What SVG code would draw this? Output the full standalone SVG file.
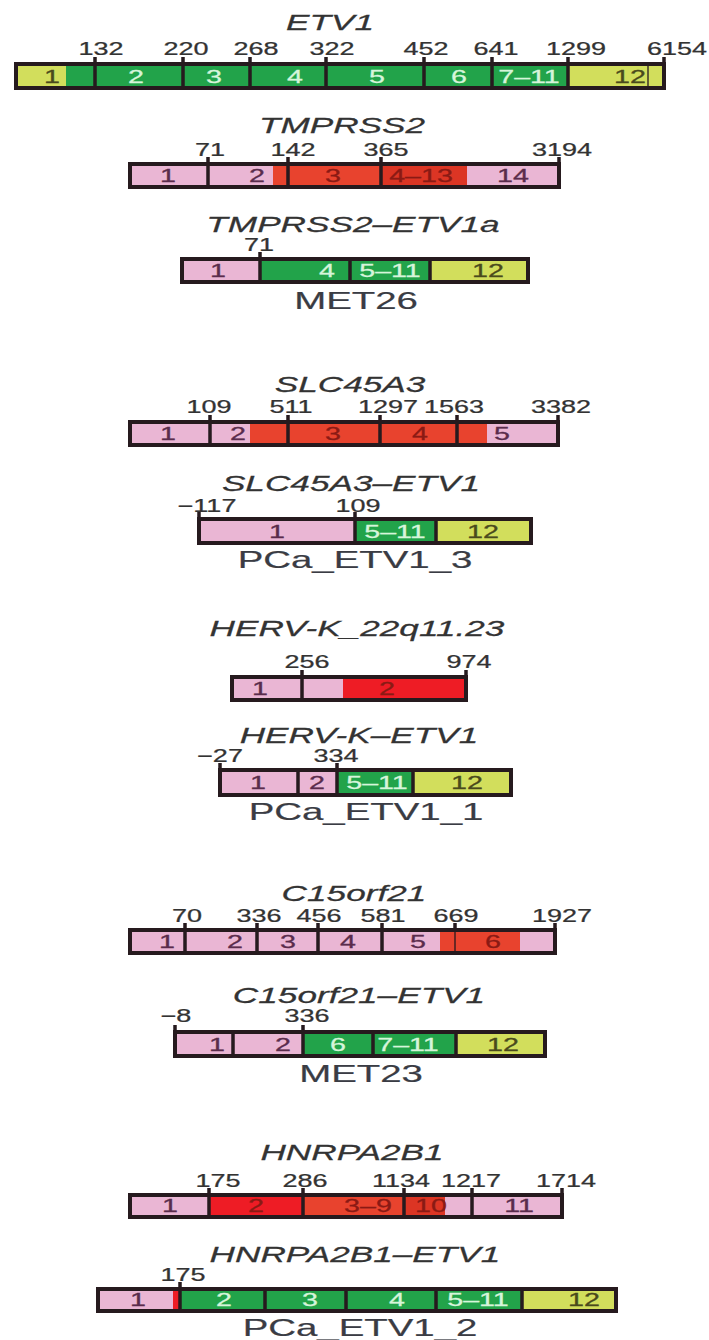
<svg xmlns="http://www.w3.org/2000/svg" width="709" height="1340" viewBox="0 0 709 1340">
<style>
text{font-family:"Liberation Sans",Arial,sans-serif;text-anchor:middle}
.t{font-size:22px;font-style:italic;fill:#333;stroke:#333;stroke-width:0.25}
.n{font-size:18px;fill:#333;stroke:#333;stroke-width:0.25}
.nm{font-size:24px;fill:#3a3c44;stroke:#3a3c44;stroke-width:0.2}
.l{font-size:18.5px;stroke-width:0.3}
.lg{fill:#d6f5da;stroke:#d6f5da}.lp{fill:#5a2c4c;stroke:#5a2c4c}.lr{fill:#8a1a14;stroke:#8a1a14}.ly{fill:#4a4a1c;stroke:#4a4a1c}
.grn{fill:#22a34a}.yel{fill:#d2de5c}.pnk{fill:#eab6d4}.red{fill:#e8432e}.brt{fill:#ee1c25}.dred{fill:#dc3524}
.box{fill:none;stroke:#261a1e;stroke-width:4}
.dv{stroke:#261a1e;stroke-width:3.5}
.thin{stroke:#261a1e;stroke-width:1.3}
</style>
<rect width="709" height="1340" fill="#ffffff"/>

<!-- ETV1 -->
<g id="etv1">
<text class="t" transform="translate(330 30) scale(1.6 1)">ETV1</text>
<rect class="yel" x="16" y="64" width="50" height="24"/>
<rect class="grn" x="66" y="64" width="502" height="24"/>
<rect class="yel" x="568" y="64" width="96" height="24"/>
<path class="dv" d="M95 57V90M183 57V90M250 57V90M326 57V90M424 57V90M492 57V90M568 57V90M664 57V64"/>
<path class="thin" d="M648 66V87"/>
<rect class="box" x="16" y="64" width="648" height="24"/>
<g class="n">
<text transform="translate(101 55) scale(1.5 1)">132</text>
<text transform="translate(186 55) scale(1.5 1)">220</text>
<text transform="translate(256 55) scale(1.5 1)">268</text>
<text transform="translate(332 55) scale(1.5 1)">322</text>
<text transform="translate(426 55) scale(1.5 1)">452</text>
<text transform="translate(496 55) scale(1.5 1)">641</text>
<text transform="translate(576 55) scale(1.5 1)">1299</text>
<text transform="translate(677 55) scale(1.5 1)">6154</text>
</g>
<g class="l">
<text class="ly" transform="translate(52 83) scale(1.55 1)">1</text>
<text class="lg" transform="translate(136 83) scale(1.55 1)">2</text>
<text class="lg" transform="translate(214 83) scale(1.55 1)">3</text>
<text class="lg" transform="translate(295 83) scale(1.55 1)">4</text>
<text class="lg" transform="translate(377 83) scale(1.55 1)">5</text>
<text class="lg" transform="translate(459 83) scale(1.55 1)">6</text>
<text class="lg" transform="translate(529 83) scale(1.55 1)">7–11</text>
<text class="ly" transform="translate(630 83) scale(1.55 1)">12</text>
</g>
</g>

<!-- TMPRSS2 -->
<g id="tmprss2">
<text class="t" transform="translate(342 133) scale(1.6 1)">TMPRSS2</text>
<rect class="pnk" x="130" y="164" width="143" height="23"/>
<rect class="red" x="273" y="164" width="108" height="23"/>
<rect class="dred" x="381" y="164" width="86" height="23"/>
<rect class="pnk" x="467" y="164" width="92" height="23"/>
<path class="dv" d="M208 157V189M288 157V189M381 157V189M559 157V164"/>
<rect class="box" x="130" y="164" width="429" height="23"/>
<g class="n">
<text transform="translate(210 156) scale(1.5 1)">71</text>
<text transform="translate(293 156) scale(1.5 1)">142</text>
<text transform="translate(386 156) scale(1.5 1)">365</text>
<text transform="translate(562 156) scale(1.5 1)">3194</text>
</g>
<g class="l">
<text class="lp" transform="translate(168 182) scale(1.55 1)">1</text>
<text class="lp" transform="translate(257 182) scale(1.55 1)">2</text>
<text class="lr" transform="translate(333 182) scale(1.55 1)">3</text>
<text class="lr" transform="translate(421 182) scale(1.55 1)">4–13</text>
<text class="lp" transform="translate(513 182) scale(1.55 1)">14</text>
</g>
</g>

<!-- TMPRSS2–ETV1a fusion -->
<g id="tmprss2-etv1a">
<text class="t" transform="translate(353 232) scale(1.6 1)">TMPRSS2–ETV1a</text>
<rect class="pnk" x="182" y="259" width="78" height="23"/>
<rect class="grn" x="260" y="259" width="170" height="23"/>
<rect class="yel" x="430" y="259" width="98" height="23"/>
<path class="dv" d="M260 252V284M350 259V282M430 259V282"/>
<rect class="box" x="182" y="259" width="346" height="23"/>
<text class="n" transform="translate(259 251) scale(1.5 1)">71</text>
<g class="l">
<text class="lp" transform="translate(218 277) scale(1.55 1)">1</text>
<text class="lg" transform="translate(327 277) scale(1.55 1)">4</text>
<text class="lg" transform="translate(390 277) scale(1.55 1)">5–11</text>
<text class="ly" transform="translate(488 277) scale(1.55 1)">12</text>
</g>
<text class="nm" transform="translate(356 309) scale(1.6 1)">MET26</text>
</g>

<!-- SLC45A3 -->
<g id="slc45a3">
<text class="t" transform="translate(350 392) scale(1.6 1)">SLC45A3</text>
<rect class="pnk" x="130" y="422" width="120" height="23"/>
<rect class="red" x="250" y="422" width="237" height="23"/>
<rect class="pnk" x="487" y="422" width="71" height="23"/>
<path class="dv" d="M210 415V447M288 415V447M380 415V447M457 415V447M558 415V422"/>
<rect class="box" x="130" y="422" width="428" height="23"/>
<g class="n">
<text transform="translate(209 413) scale(1.5 1)">109</text>
<text transform="translate(291 413) scale(1.5 1)">511</text>
<text transform="translate(388 413) scale(1.5 1)">1297</text>
<text transform="translate(454 413) scale(1.5 1)">1563</text>
<text transform="translate(561 413) scale(1.5 1)">3382</text>
</g>
<g class="l">
<text class="lp" transform="translate(168 440) scale(1.55 1)">1</text>
<text class="lp" transform="translate(238 440) scale(1.55 1)">2</text>
<text class="lr" transform="translate(333 440) scale(1.55 1)">3</text>
<text class="lr" transform="translate(420 440) scale(1.55 1)">4</text>
<text class="lp" transform="translate(502 440) scale(1.55 1)">5</text>
</g>
</g>

<!-- SLC45A3–ETV1 fusion -->
<g id="slc45a3-etv1">
<text class="t" transform="translate(351 491) scale(1.6 1)">SLC45A3–ETV1</text>
<rect class="pnk" x="199" y="519" width="156" height="24"/>
<rect class="grn" x="355" y="519" width="81" height="24"/>
<rect class="yel" x="436" y="519" width="95" height="24"/>
<path class="dv" d="M199 512V519M355 512V545M436 519V543"/>
<rect class="box" x="199" y="519" width="332" height="24"/>
<text class="n" transform="translate(207 512) scale(1.5 1)">−117</text>
<text class="n" transform="translate(358 512) scale(1.5 1)">109</text>
<g class="l">
<text class="lp" transform="translate(277 538) scale(1.55 1)">1</text>
<text class="lg" transform="translate(395 538) scale(1.55 1)">5–11</text>
<text class="ly" transform="translate(483 538) scale(1.55 1)">12</text>
</g>
<text class="nm" transform="translate(355 568) scale(1.6 1)">PCa_ETV1_3</text>
</g>

<!-- HERV-K_22q11.23 -->
<g id="hervk">
<text class="t" transform="translate(357 636) scale(1.6 1)">HERV-K_22q11.23</text>
<rect class="pnk" x="232" y="677" width="111" height="23"/>
<rect class="brt" x="343" y="677" width="123" height="23"/>
<path class="dv" d="M302 670V702M466 670V677"/>
<rect class="box" x="232" y="677" width="234" height="23"/>
<text class="n" transform="translate(307 668) scale(1.5 1)">256</text>
<text class="n" transform="translate(469 668) scale(1.5 1)">974</text>
<g class="l">
<text class="lp" transform="translate(260 695) scale(1.55 1)">1</text>
<text class="lr" transform="translate(387 695) scale(1.55 1)">2</text>
</g>
</g>

<!-- HERV-K–ETV1 fusion -->
<g id="hervk-etv1">
<text class="t" transform="translate(359 743) scale(1.6 1)">HERV-K–ETV1</text>
<rect class="pnk" x="220" y="770" width="117" height="25"/>
<rect class="grn" x="337" y="770" width="76" height="25"/>
<rect class="yel" x="413" y="770" width="98" height="25"/>
<path class="dv" d="M220 763V770M298 770V795M337 763V797M413 770V795"/>
<rect class="box" x="220" y="770" width="291" height="25"/>
<text class="n" transform="translate(220 762) scale(1.5 1)">−27</text>
<text class="n" transform="translate(336 762) scale(1.5 1)">334</text>
<g class="l">
<text class="lp" transform="translate(258 789) scale(1.55 1)">1</text>
<text class="lp" transform="translate(317 789) scale(1.55 1)">2</text>
<text class="lg" transform="translate(377 789) scale(1.55 1)">5–11</text>
<text class="ly" transform="translate(467 789) scale(1.55 1)">12</text>
</g>
<text class="nm" transform="translate(366 820) scale(1.6 1)">PCa_ETV1_1</text>
</g>

<!-- C15orf21 -->
<g id="c15orf21">
<text class="t" transform="translate(354 901) scale(1.6 1)">C15orf21</text>
<rect class="pnk" x="130" y="930" width="310" height="23"/>
<rect class="red" x="440" y="930" width="80" height="23"/>
<rect class="pnk" x="520" y="930" width="35" height="23"/>
<path class="dv" d="M185 923V955M257 923V955M318 923V955M382 923V955M555 923V930"/>
<path class="dv" d="M455 923V932"/>
<path class="thin" d="M455 932V953"/>
<rect class="box" x="130" y="930" width="425" height="23"/>
<g class="n">
<text transform="translate(187 922) scale(1.5 1)">70</text>
<text transform="translate(259 922) scale(1.5 1)">336</text>
<text transform="translate(319 922) scale(1.5 1)">456</text>
<text transform="translate(383 922) scale(1.5 1)">581</text>
<text transform="translate(456 922) scale(1.5 1)">669</text>
<text transform="translate(562 922) scale(1.5 1)">1927</text>
</g>
<g class="l">
<text class="lp" transform="translate(167 948) scale(1.55 1)">1</text>
<text class="lp" transform="translate(235 948) scale(1.55 1)">2</text>
<text class="lp" transform="translate(288 948) scale(1.55 1)">3</text>
<text class="lp" transform="translate(348 948) scale(1.55 1)">4</text>
<text class="lp" transform="translate(418 948) scale(1.55 1)">5</text>
<text class="lr" transform="translate(493 948) scale(1.55 1)">6</text>
</g>
</g>

<!-- C15orf21–ETV1 fusion -->
<g id="c15orf21-etv1">
<text class="t" transform="translate(359 1003) scale(1.6 1)">C15orf21–ETV1</text>
<rect class="pnk" x="175" y="1032" width="128" height="24"/>
<rect class="grn" x="303" y="1032" width="153" height="24"/>
<rect class="yel" x="456" y="1032" width="89" height="24"/>
<path class="dv" d="M175 1025V1032M233 1032V1056M303 1025V1058M373 1032V1056M456 1032V1056"/>
<rect class="box" x="175" y="1032" width="370" height="24"/>
<text class="n" transform="translate(176 1022) scale(1.5 1)">−8</text>
<text class="n" transform="translate(307 1022) scale(1.5 1)">336</text>
<g class="l">
<text class="lp" transform="translate(217 1051) scale(1.55 1)">1</text>
<text class="lp" transform="translate(283 1051) scale(1.55 1)">2</text>
<text class="lg" transform="translate(338 1051) scale(1.55 1)">6</text>
<text class="lg" transform="translate(408 1051) scale(1.55 1)">7–11</text>
<text class="ly" transform="translate(503 1051) scale(1.55 1)">12</text>
</g>
<text class="nm" transform="translate(361 1082) scale(1.6 1)">MET23</text>
</g>

<!-- HNRPA2B1 -->
<g id="hnrpa2b1">
<text class="t" transform="translate(352 1160) scale(1.6 1)">HNRPA2B1</text>
<rect class="pnk" x="130" y="1195" width="79" height="22"/>
<rect class="brt" x="209" y="1195" width="94" height="22"/>
<rect class="red" x="303" y="1195" width="101" height="22"/>
<rect class="dred" x="404" y="1195" width="41" height="22"/>
<rect class="pnk" x="445" y="1195" width="117" height="22"/>
<path class="dv" d="M209 1188V1219M303 1188V1219M404 1188V1219M472 1188V1219M562 1188V1195"/>
<rect class="box" x="130" y="1195" width="432" height="22"/>
<g class="n">
<text transform="translate(218 1187) scale(1.5 1)">175</text>
<text transform="translate(305 1187) scale(1.5 1)">286</text>
<text transform="translate(401 1187) scale(1.5 1)">1134</text>
<text transform="translate(471 1187) scale(1.5 1)">1217</text>
<text transform="translate(566 1187) scale(1.5 1)">1714</text>
</g>
<g class="l">
<text class="lp" transform="translate(170 1212) scale(1.55 1)">1</text>
<text class="lr" transform="translate(256 1212) scale(1.55 1)">2</text>
<text class="lr" transform="translate(368 1212) scale(1.55 1)">3–9</text>
<text class="lr" transform="translate(431 1212) scale(1.55 1)">10</text>
<text class="lp" transform="translate(519 1212) scale(1.55 1)">11</text>
</g>
</g>

<!-- HNRPA2B1–ETV1 fusion -->
<g id="hnrpa2b1-etv1">
<text class="t" transform="translate(355 1262) scale(1.6 1)">HNRPA2B1–ETV1</text>
<rect class="pnk" x="98" y="1289" width="75" height="22"/>
<rect class="brt" x="173" y="1289" width="7" height="22"/>
<rect class="grn" x="180" y="1289" width="342" height="22"/>
<rect class="yel" x="522" y="1289" width="94" height="22"/>
<path class="dv" d="M180 1282V1313M265 1289V1311M346 1289V1311M436 1289V1311M522 1289V1311"/>
<rect class="box" x="98" y="1289" width="518" height="22"/>
<text class="n" transform="translate(183 1281) scale(1.5 1)">175</text>
<g class="l">
<text class="lp" transform="translate(138 1306) scale(1.55 1)">1</text>
<text class="lg" transform="translate(224 1306) scale(1.55 1)">2</text>
<text class="lg" transform="translate(310 1306) scale(1.55 1)">3</text>
<text class="lg" transform="translate(397 1306) scale(1.55 1)">4</text>
<text class="lg" transform="translate(478 1306) scale(1.55 1)">5–11</text>
<text class="ly" transform="translate(584 1306) scale(1.55 1)">12</text>
</g>
<text class="nm" transform="translate(360 1336) scale(1.6 1)">PCa_ETV1_2</text>
</g>
</svg>
